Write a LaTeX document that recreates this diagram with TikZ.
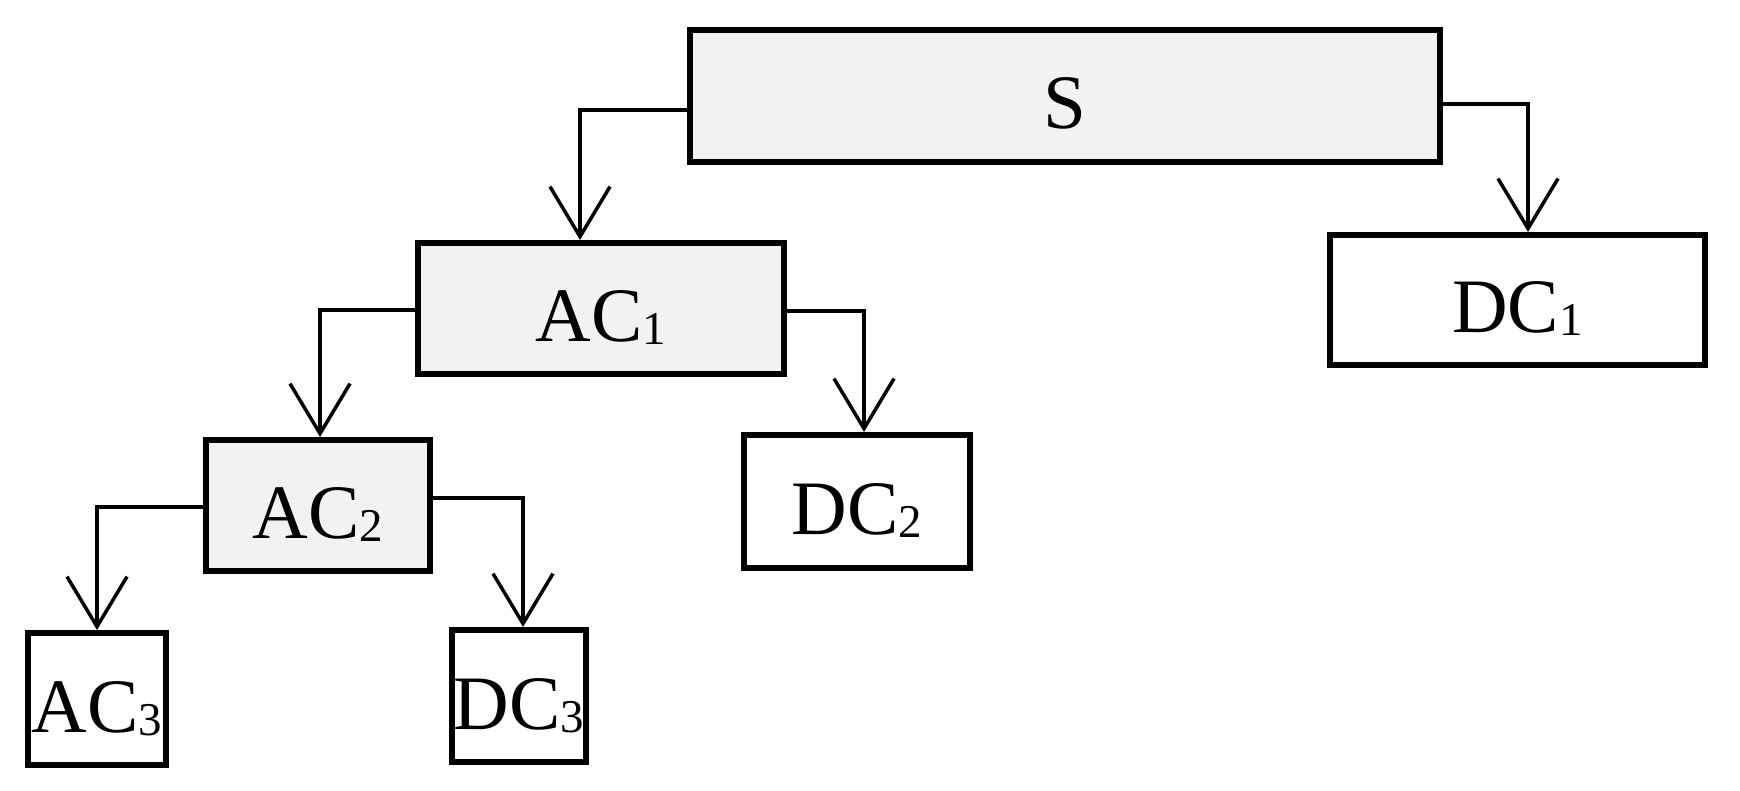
\documentclass[tikz,border=0pt]{standalone}
\usepackage{fontspec}
\setmainfont{Liberation Serif}
\usetikzlibrary{arrows.meta}
\newcommand{\lbl}[2]{\raisebox{-33pt}[0pt][0pt]{#1\raisebox{-3pt}{\fontsize{47}{50}\selectfont #2}}}
\tikzset{
  box/.style={draw,line width=6pt,inner sep=0pt,font=\fontsize{77}{80}\selectfont},
  greybox/.style={box,fill={rgb,255:red,242;green,242;blue,242}},
  conn/.style={line width=3.5pt,-{Straight Barb[length=50pt,width=60pt,line width=3.5pt]}}
}
\begin{document}
\begin{tikzpicture}[x=1pt,y=-1pt]
\useasboundingbox (0,0) rectangle (1740,791);
\node[greybox,minimum width=750pt,minimum height=132pt] (S) at (1065,96) {\lbl{S}{}};
\node[box,minimum width=375pt,minimum height=130pt] (DC1) at (1517.5,300) {\lbl{DC}{1}};
\node[greybox,minimum width=366pt,minimum height=131pt] (AC1) at (601,308.5) {\lbl{AC}{1}};
\node[box,minimum width=226pt,minimum height=133pt] (DC2) at (857,501.5) {\lbl{DC}{2}};
\node[greybox,minimum width=224pt,minimum height=131pt] (AC2) at (318,505.5) {\lbl{AC}{2}};
\node[box,minimum width=138pt,minimum height=132pt] (AC3) at (97,699) {\lbl{AC}{3}};
\node[box,minimum width=134pt,minimum height=132pt] (DC3) at (519,696) {\lbl{DC}{3}};
\draw[conn] ([yshift=-14pt]S.west) -| ([xshift=-21pt]AC1.north);
\draw[conn] ([yshift=-8pt]S.east) -| ([xshift=10.5pt]DC1.north);
\draw[conn] ([yshift=-1.5pt]AC1.west) -| ([xshift=2pt]AC2.north);
\draw[conn] ([yshift=-2.5pt]AC1.east) -| ([xshift=7pt]DC2.north);
\draw[conn] ([yshift=-1.5pt]AC2.west) -| (AC3.north);
\draw[conn] ([yshift=7.5pt]AC2.east) -| ([xshift=4pt]DC3.north);
\end{tikzpicture}
\end{document}
